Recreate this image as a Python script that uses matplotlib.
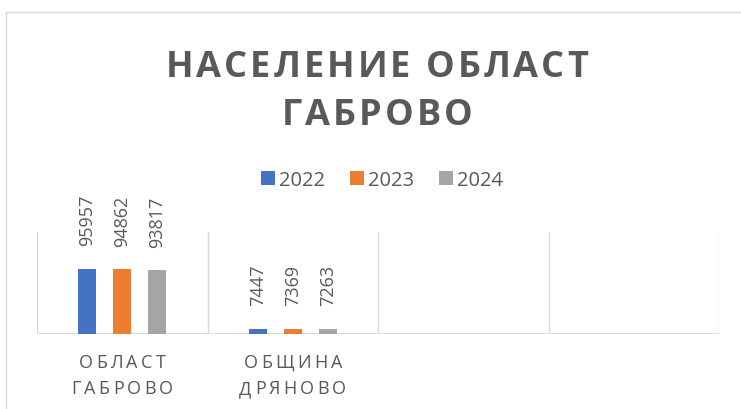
import matplotlib
matplotlib.use("Agg")
import matplotlib.pyplot as plt
from matplotlib.patches import Patch, Rectangle
import numpy as np

plt.rcParams['font.family'] = ['Open Sans', 'DejaVu Sans']

categories = [["ОБЛАСТ", "ГАБРОВО"], ["ОБЩИНА", "ДРЯНОВО"], [], []]
years = ["2022", "2023", "2024"]
values_2022 = [95957, 7447, None, None]
values_2023 = [94862, 7369, None, None]
values_2024 = [93817, 7263, None, None]
series = [values_2022, values_2023, values_2024]
colors = ["#4472C4", "#ED7D31", "#A5A5A5"]
title_lines = ["НАСЕЛЕНИЕ ОБЛАСТ", "ГАБРОВО"]

W, H = 741, 410
DPI = 100
TXT = "#595959"
GRID = "#D9D9D9"

fig = plt.figure(figsize=(W / DPI, H / DPI), dpi=DPI)
fig.patch.set_facecolor("white")

# chart frame (cropped at right/bottom)
fig.add_artist(Rectangle((6 / W, -0.1), 1.2, 1.1 - 13 / H, transform=fig.transFigure,
                         fill=False, edgecolor=GRID, linewidth=1.0))

ax_l, ax_r, ax_b, ax_t = 37, 719, 335, 233
ax = fig.add_axes([ax_l / W, 1 - ax_b / H, (ax_r - ax_l) / W, (ax_b - ax_t) / H])
ax.set_xlim(-0.5, len(categories) - 0.5)
ax.set_ylim(0, 150000)
for s in ax.spines.values():
    s.set_visible(False)
ax.set_xticks([])
ax.set_yticks([])
for b in np.arange(-0.5, len(categories), 1.0):
    ax.axvline(b, color=GRID, lw=1.0, zorder=0)
ax.axhline(0, color=GRID, lw=1.3, zorder=0)

x = np.arange(len(categories))
bw = 0.106
step = 0.205
for i, (vals, col) in enumerate(zip(series, colors)):
    xs = [xi + (i - 1) * step for xi, v in zip(x, vals) if v is not None]
    vs = [v for v in vals if v is not None]
    ax.bar(xs, vs, width=bw, color=col, zorder=2)
    for xx, vv in zip(xs, vs):
        ax.annotate(str(vv), (xx, vv), xytext=(0, 17), textcoords="offset points",
                    rotation=90, ha="center", va="bottom", fontsize=13, color=TXT)

renderer = fig.canvas.get_renderer()


def spaced_text(s, cx, baseline, spacing, **kw):
    """Draw letter-spaced text centred at cx (px) with baseline at y (px from top)."""
    widths = []
    for ch in s:
        t = fig.text(0, 0, ch, **kw)
        widths.append(t.get_window_extent(renderer).width if ch != " " else None)
        t.remove()
    sp = fig.text(0, 0, "n n", **kw)
    wnn = sp.get_window_extent(renderer).width
    sp.remove()
    sp = fig.text(0, 0, "nn", **kw)
    wsp = wnn - sp.get_window_extent(renderer).width
    sp.remove()
    widths = [w if w is not None else wsp for w in widths]
    total = sum(widths) + spacing * (len(s) - 1)
    xpos = cx - total / 2
    for ch, w in zip(s, widths):
        if ch != " ":
            fig.text(xpos / W, 1 - baseline / H, ch, ha="left", va="baseline", **kw)
        xpos += w + spacing


# title
spaced_text(title_lines[0], 377, 77, 3.0, fontsize=26, fontweight="bold", color=TXT)
spaced_text(title_lines[1], 377, 125, 3.0, fontsize=26, fontweight="bold", color=TXT)

# category labels
cat_w = (ax_r - ax_l) / len(categories)
for i, lines in enumerate(categories):
    cx = ax_l + cat_w * (i + 0.5)
    for j, line in enumerate(lines):
        spaced_text(line, cx, 368 + 26 * j, 3.3, fontsize=13, color=TXT)

# legend
handles = [Patch(facecolor=c, edgecolor="none") for c in colors]
leg = fig.legend(handles, years, loc="center", bbox_to_anchor=(382 / W, 1 - 181 / H),
                 ncol=3, frameon=False, fontsize=14.5, handlelength=0.7, handleheight=0.7,
                 handletextpad=0.2, columnspacing=1.25, labelcolor=TXT)

fig.savefig("out.png", dpi=DPI, facecolor="white")
